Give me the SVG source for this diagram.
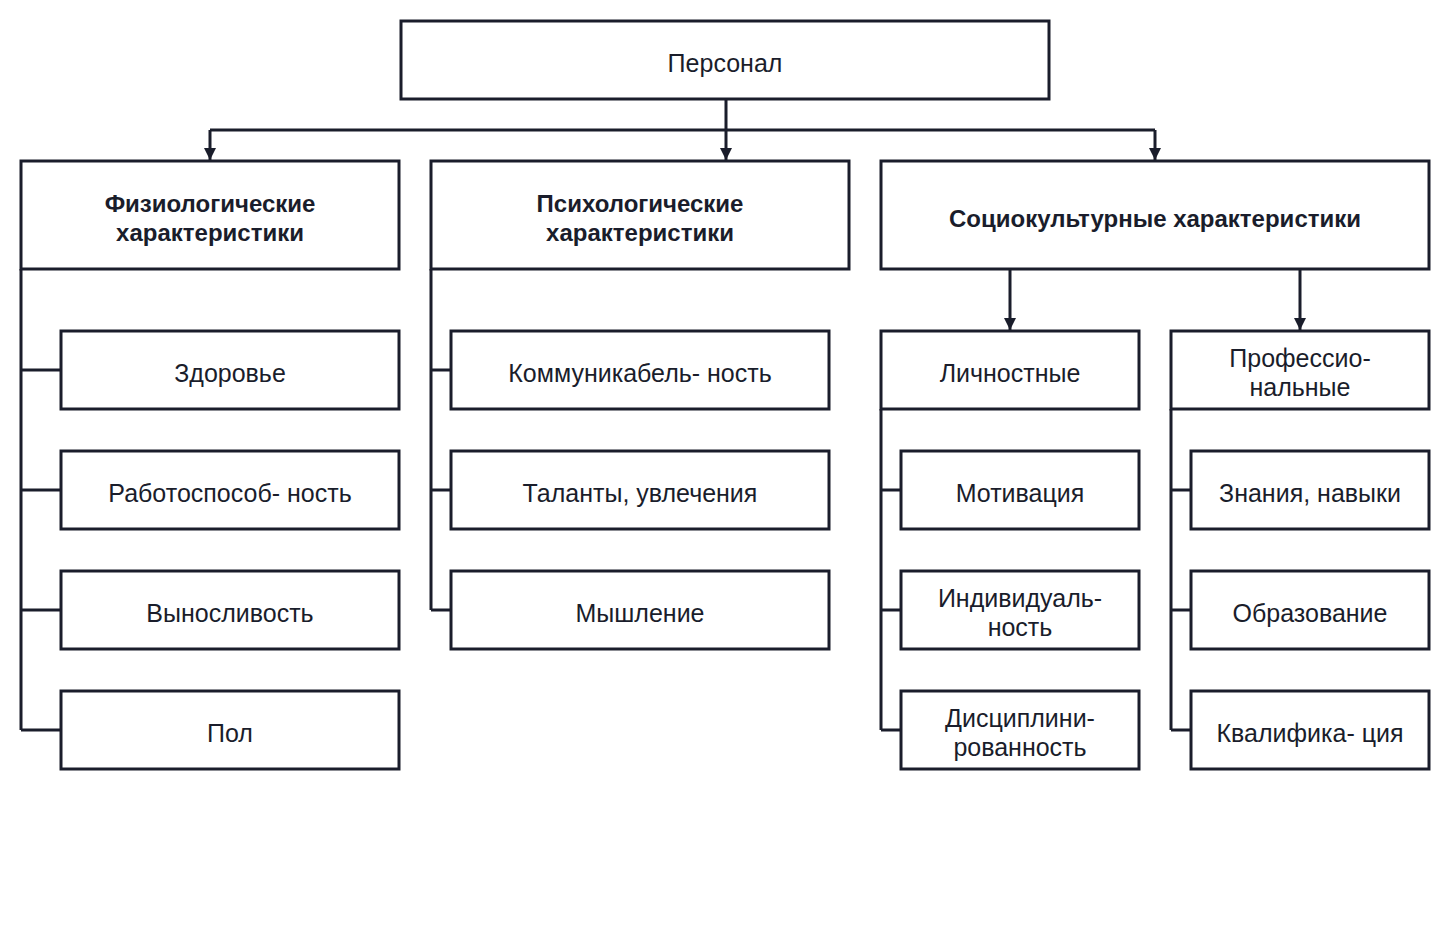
<svg xmlns="http://www.w3.org/2000/svg" width="1452" height="948" viewBox="0 0 1452 948">
<style>
rect{fill:#fff;stroke:#1a1d2b;stroke-width:3}
text{font-family:"Liberation Sans",Arial,sans-serif;font-size:25px;fill:#1a1d2b;text-anchor:middle;dominant-baseline:central}
.b{font-weight:bold;font-size:24px}
#conn path{fill:none;stroke:#1a1d2b;stroke-width:3}
</style>
<defs><marker id="a" viewBox="0 0 10 10" refX="10" refY="5" markerWidth="5" markerHeight="5" orient="auto" markerUnits="userSpaceOnUse" style="overflow:visible"><path d="M0,0L10,5L0,10Z" fill="#1a1d2b" transform="scale(1.3) translate(-2.3,-1.15)"/></marker>
<marker id="m" viewBox="0 0 12 12" refX="12" refY="6" markerWidth="12" markerHeight="12" orient="auto" markerUnits="userSpaceOnUse"><path d="M0,0L12,6L0,12Z" fill="#1a1d2b"/></marker></defs>
<rect width="1452" height="948" style="fill:#fff;stroke:none"/>
<g id="conn">
<path d="M726,99V130M210,130H1155"/>
<path d="M210,130V160" marker-end="url(#m)"/>
<path d="M726,130V160" marker-end="url(#m)"/>
<path d="M1155,130V160" marker-end="url(#m)"/>
<path d="M1010,269V330" marker-end="url(#m)"/>
<path d="M1300,269V330" marker-end="url(#m)"/>
<path d="M21,269V730M21,370H61M21,490H61M21,610H61M21,730H61"/>
<path d="M431,269V610M431,370H451M431,490H451M431,610H451"/>
<path d="M881,409V730M881,490H901M881,610H901M881,730H901"/>
<path d="M1171,409V730M1171,490H1191M1171,610H1191M1171,730H1191"/>
</g>
<g id="n0"><rect x="401" y="21" width="648" height="78"/><text x="725" y="63">Персонал</text></g>
<g id="n1"><rect x="21" y="161" width="378" height="108"/><text class="b" x="210" y="203">Физиологические</text><text class="b" x="210" y="232">характеристики</text></g>
<g id="n2"><rect x="431" y="161" width="418" height="108"/><text class="b" x="640" y="203">Психологические</text><text class="b" x="640" y="232">характеристики</text></g>
<g id="n3"><rect x="881" y="161" width="548" height="108"/><text class="b" x="1155" y="218">Социокультурные характеристики</text></g>
<g id="n4"><rect x="61" y="331" width="338" height="78"/><text x="230" y="373">Здоровье</text></g>
<g id="n5"><rect x="61" y="451" width="338" height="78"/><text x="230" y="493">Работоспособ- ность</text></g>
<g id="n6"><rect x="61" y="571" width="338" height="78"/><text x="230" y="613">Выносливость</text></g>
<g id="n7"><rect x="61" y="691" width="338" height="78"/><text x="230" y="733">Пол</text></g>
<g id="n8"><rect x="451" y="331" width="378" height="78"/><text x="640" y="373">Коммуникабель- ность</text></g>
<g id="n9"><rect x="451" y="451" width="378" height="78"/><text x="640" y="493">Таланты, увлечения</text></g>
<g id="n10"><rect x="451" y="571" width="378" height="78"/><text x="640" y="613">Мышление</text></g>
<g id="n11"><rect x="881" y="331" width="258" height="78"/><text x="1010" y="373">Личностные</text></g>
<g id="n12"><rect x="1171" y="331" width="258" height="78"/><text x="1300" y="358">Профессио-</text><text x="1300" y="387">нальные</text></g>
<g id="n13"><rect x="901" y="451" width="238" height="78"/><text x="1020" y="493">Мотивация</text></g>
<g id="n14"><rect x="901" y="571" width="238" height="78"/><text x="1020" y="598">Индивидуаль-</text><text x="1020" y="627">ность</text></g>
<g id="n15"><rect x="901" y="691" width="238" height="78"/><text x="1020" y="718">Дисциплини-</text><text x="1020" y="747">рованность</text></g>
<g id="n16"><rect x="1191" y="451" width="238" height="78"/><text x="1310" y="493">Знания, навыки</text></g>
<g id="n17"><rect x="1191" y="571" width="238" height="78"/><text x="1310" y="613">Образование</text></g>
<g id="n18"><rect x="1191" y="691" width="238" height="78"/><text x="1310" y="733">Квалифика- ция</text></g>
</svg>
